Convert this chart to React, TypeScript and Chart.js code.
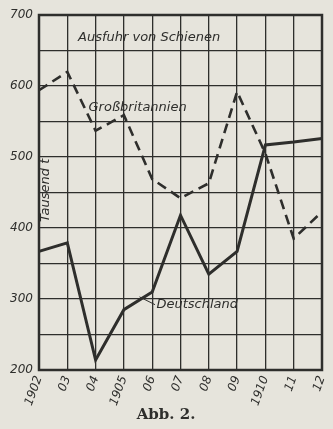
import React, { useEffect, useRef } from "react";
import { Chart, registerables } from "chart.js";

Chart.register(...registerables);

const years = ["1902", "03", "04", "1905", "06", "07", "08", "09", "1910", "11", "12"];
const grossbritannien = [594, 620, 537, 559, 469, 442, 463, 592, 505, 385, 423];
const deutschland = [367, 379, 214, 285, 310, 418, 335, 367, 517, 521, 526];

const PAPER = "#e6e4dc";
const INK = "#2e2e2c";
const FONT = "'DejaVu Sans', sans-serif";

const paperPlugin = {
  id: "paper",
  beforeDraw(chart: any) {
    const { ctx, width, height } = chart;
    ctx.save();
    ctx.fillStyle = PAPER;
    ctx.fillRect(0, 0, width, height);
    ctx.restore();
  },
};

const labelsPlugin = {
  id: "labels",
  afterDraw(chart: any) {
    const { ctx, chartArea } = chart;
    const xs = chart.scales.x;
    const ys = chart.scales.y;
    ctx.save();
    ctx.fillStyle = INK;
    ctx.strokeStyle = INK;
    // frame
    ctx.lineWidth = 2.5;
    ctx.strokeRect(chartArea.left, chartArea.top, chartArea.right - chartArea.left, chartArea.bottom - chartArea.top);
    // title
    ctx.font = `italic 13px ${FONT}`;
    ctx.textAlign = "left";
    ctx.textBaseline = "middle";
    ctx.fillText("Ausfuhr von Schienen", 78, 38);
    // Großbritannien
    ctx.fillText("Großbritannien", xs.getPixelForValue(1.75), ys.getPixelForValue(569));
    // Deutschland
    ctx.fillText("Deutschland", xs.getPixelForValue(4.15), ys.getPixelForValue(292));
    ctx.lineWidth = 1;
    ctx.beginPath();
    ctx.moveTo(xs.getPixelForValue(3.55), ys.getPixelForValue(303));
    ctx.lineTo(xs.getPixelForValue(4.1), ys.getPixelForValue(292));
    ctx.stroke();
    // Tausend t
    ctx.save();
    ctx.translate(chartArea.left + 7, ys.getPixelForValue(453));
    ctx.rotate(-Math.PI / 2);
    ctx.textAlign = "center";
    ctx.fillText("Tausend t", 0, 0);
    ctx.restore();
    // Abb. 2.
    ctx.font = `bold 15px 'DejaVu Serif', serif`;
    ctx.textAlign = "center";
    ctx.fillText("Abb. 2.", 166, 415);
    ctx.restore();
  },
};

export default function App() {
  const ref = useRef<HTMLCanvasElement>(null);
  useEffect(() => {
    document.body.style.margin = "0";
    const chart = new Chart(ref.current!, {
      type: "line",
      data: {
        labels: years,
        datasets: [
          {
            label: "Großbritannien",
            data: grossbritannien,
            borderColor: INK,
            borderWidth: 2.6,
            borderDash: [10, 6],
            pointRadius: 0,
            tension: 0,
            fill: false,
          },
          {
            label: "Deutschland",
            data: deutschland,
            borderColor: INK,
            borderWidth: 3,
            pointRadius: 0,
            tension: 0,
            fill: false,
          },
        ],
      },
      options: {
        responsive: false,
        animation: false,
        layout: { padding: { left: 0, right: 11, top: 15, bottom: 0 } },
        plugins: { legend: { display: false }, tooltip: { enabled: false } },
        scales: {
          x: {
            offset: false,
            grid: { color: INK, lineWidth: 1.3, drawTicks: false },
            border: { display: false },
            ticks: {
              color: INK,
              font: { family: FONT, style: "italic", size: 12 },
              minRotation: 70,
              maxRotation: 70,
              padding: 4,
              autoSkip: false,
            },
            afterFit(scale: any) {
              scale.height = 59;
              scale.paddingLeft = 0;
              scale.paddingRight = 0;
            },
          },
          y: {
            min: 200,
            max: 700,
            grid: { color: INK, lineWidth: 1.3, drawTicks: false },
            border: { display: false },
            ticks: {
              stepSize: 50,
              color: INK,
              padding: 6,
              font: { family: FONT, style: "italic", size: 12 },
              callback: (v: any) => (Number(v) % 100 === 0 ? String(v) : ""),
            },
            afterFit(scale: any) {
              scale.width = 39;
              scale.paddingTop = 0;
              scale.paddingBottom = 0;
            },
          },
        },
      },
      plugins: [paperPlugin, labelsPlugin],
    });
    return () => chart.destroy();
  }, []);
  return (
    <div style={{ width: 333, height: 429, background: PAPER }}>
      <canvas ref={ref} width={333} height={429} style={{ display: "block" }} />
    </div>
  );
}
